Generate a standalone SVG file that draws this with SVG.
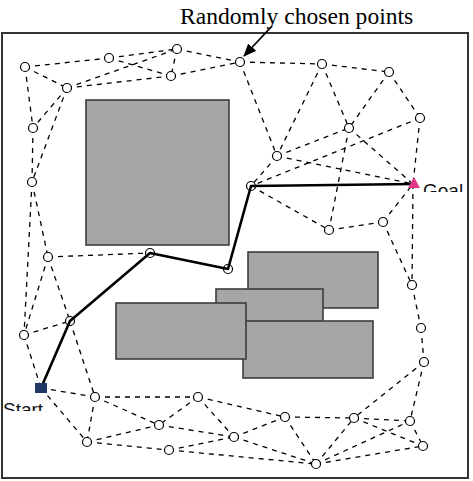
<svg xmlns="http://www.w3.org/2000/svg" width="473" height="481" viewBox="0 0 473 481">
<style>
.edge{stroke:#000;stroke-width:1.3;stroke-dasharray:5 5;fill:none}
.nd{fill:#fff;stroke:#000;stroke-width:1.2}
.obs{fill:#a6a6a6;stroke:#3c3c3c;stroke-width:1.6}
.sol{stroke:#000;stroke-width:2.6;fill:none;stroke-linejoin:round}
.lbl{font-family:"Liberation Sans",Arial,sans-serif;font-size:19px;fill:#111}
.ttl{font-family:"Liberation Serif","Times New Roman",serif;font-size:23.6px;fill:#000}
</style>
<defs>
<marker id="ah" markerWidth="13" markerHeight="11" refX="12" refY="5.5" orient="auto" markerUnits="userSpaceOnUse"><path d="M0,0 L13,5.5 L0,11 z" fill="#000"/></marker>
<clipPath id="cs"><rect x="0" y="395" width="60" height="16"/></clipPath>
<clipPath id="cg"><rect x="420" y="175" width="50" height="17"/></clipPath>
</defs>
<rect x="0" y="0" width="473" height="481" fill="#fff"/>
<rect id="frame" x="2" y="33" width="466" height="445" fill="#fff" stroke="#333" stroke-width="2"/>
<g id="obstacles">
<rect class="obs" x="86" y="100" width="143" height="145"/>
<rect class="obs" x="248" y="252" width="130" height="56"/>
<rect class="obs" x="216" y="289" width="107" height="40"/>
<rect class="obs" x="243" y="321" width="130" height="57"/>
<rect class="obs" x="116" y="303" width="130" height="56"/>
</g>
<g id="connectors">
<line class="edge" x1="25" y1="67" x2="109" y2="58"/>
<line class="edge" x1="25" y1="67" x2="67" y2="88"/>
<line class="edge" x1="25" y1="67" x2="33" y2="128"/>
<line class="edge" x1="109" y1="58" x2="177" y2="49"/>
<line class="edge" x1="109" y1="58" x2="171" y2="76"/>
<line class="edge" x1="177" y1="49" x2="171" y2="76"/>
<line class="edge" x1="177" y1="49" x2="240" y2="62"/>
<line class="edge" x1="171" y1="76" x2="240" y2="62"/>
<line class="edge" x1="67" y1="88" x2="177" y2="49"/>
<line class="edge" x1="67" y1="88" x2="171" y2="76"/>
<line class="edge" x1="67" y1="88" x2="33" y2="128"/>
<line class="edge" x1="67" y1="88" x2="32" y2="182"/>
<line class="edge" x1="33" y1="128" x2="32" y2="182"/>
<line class="edge" x1="32" y1="182" x2="48" y2="257"/>
<line class="edge" x1="32" y1="182" x2="24" y2="335"/>
<line class="edge" x1="48" y1="257" x2="150" y2="253"/>
<line class="edge" x1="48" y1="257" x2="24" y2="335"/>
<line class="edge" x1="48" y1="257" x2="70" y2="321"/>
<line class="edge" x1="240" y1="62" x2="322" y2="64"/>
<line class="edge" x1="240" y1="62" x2="277" y2="156"/>
<line class="edge" x1="322" y1="64" x2="389" y2="72"/>
<line class="edge" x1="322" y1="64" x2="277" y2="156"/>
<line class="edge" x1="322" y1="64" x2="349" y2="128"/>
<line class="edge" x1="389" y1="72" x2="349" y2="128"/>
<line class="edge" x1="389" y1="72" x2="420" y2="118"/>
<line class="edge" x1="420" y1="118" x2="413" y2="184"/>
<line class="edge" x1="420" y1="118" x2="251" y2="186"/>
<line class="edge" x1="277" y1="156" x2="349" y2="128"/>
<line class="edge" x1="277" y1="156" x2="413" y2="184"/>
<line class="edge" x1="277" y1="156" x2="251" y2="186"/>
<line class="edge" x1="349" y1="128" x2="413" y2="184"/>
<line class="edge" x1="349" y1="128" x2="329" y2="230"/>
<line class="edge" x1="251" y1="186" x2="329" y2="230"/>
<line class="edge" x1="329" y1="230" x2="383" y2="222"/>
<line class="edge" x1="383" y1="222" x2="413" y2="184"/>
<line class="edge" x1="383" y1="222" x2="412" y2="285"/>
<line class="edge" x1="413" y1="184" x2="412" y2="285"/>
<line class="edge" x1="412" y1="285" x2="421" y2="328"/>
<line class="edge" x1="421" y1="328" x2="424" y2="362"/>
<line class="edge" x1="424" y1="362" x2="354" y2="418"/>
<line class="edge" x1="424" y1="362" x2="410" y2="421"/>
<line class="edge" x1="24" y1="335" x2="70" y2="321"/>
<line class="edge" x1="24" y1="335" x2="41" y2="388"/>
<line class="edge" x1="70" y1="321" x2="95" y2="397"/>
<line class="edge" x1="41" y1="388" x2="95" y2="397"/>
<line class="edge" x1="41" y1="388" x2="87" y2="442"/>
<line class="edge" x1="95" y1="397" x2="87" y2="442"/>
<line class="edge" x1="95" y1="397" x2="159" y2="425"/>
<line class="edge" x1="95" y1="397" x2="198" y2="397"/>
<line class="edge" x1="87" y1="442" x2="159" y2="425"/>
<line class="edge" x1="87" y1="442" x2="169" y2="450"/>
<line class="edge" x1="198" y1="397" x2="159" y2="425"/>
<line class="edge" x1="198" y1="397" x2="234" y2="437"/>
<line class="edge" x1="198" y1="397" x2="285" y2="417"/>
<line class="edge" x1="159" y1="425" x2="234" y2="437"/>
<line class="edge" x1="169" y1="450" x2="234" y2="437"/>
<line class="edge" x1="169" y1="450" x2="316" y2="464"/>
<line class="edge" x1="234" y1="437" x2="285" y2="417"/>
<line class="edge" x1="234" y1="437" x2="316" y2="464"/>
<line class="edge" x1="285" y1="417" x2="316" y2="464"/>
<line class="edge" x1="285" y1="417" x2="354" y2="418"/>
<line class="edge" x1="316" y1="464" x2="354" y2="418"/>
<line class="edge" x1="316" y1="464" x2="410" y2="421"/>
<line class="edge" x1="316" y1="464" x2="423" y2="446"/>
<line class="edge" x1="354" y1="418" x2="410" y2="421"/>
<line class="edge" x1="354" y1="418" x2="423" y2="446"/>
<line class="edge" x1="410" y1="421" x2="423" y2="446"/>
<line x1="272" y1="26" x2="244" y2="56" stroke="#000" stroke-width="1.8" marker-end="url(#ah)"/>
</g>
<g id="nodes">
<g id="n-a"><circle class="nd" cx="25" cy="67" r="4.5"/></g>
<g id="n-b"><circle class="nd" cx="109" cy="58" r="4.5"/></g>
<g id="n-c"><circle class="nd" cx="177" cy="49" r="4.5"/></g>
<g id="n-d"><circle class="nd" cx="171" cy="76" r="4.5"/></g>
<g id="n-e"><circle class="nd" cx="67" cy="88" r="4.5"/></g>
<g id="n-f"><circle class="nd" cx="240" cy="62" r="4.5"/></g>
<g id="n-g"><circle class="nd" cx="33" cy="128" r="4.5"/></g>
<g id="n-h"><circle class="nd" cx="32" cy="182" r="4.5"/></g>
<g id="n-i"><circle class="nd" cx="48" cy="257" r="4.5"/></g>
<g id="n-j"><circle class="nd" cx="150" cy="253" r="4.5"/></g>
<g id="n-k"><circle class="nd" cx="228" cy="269" r="4.5"/></g>
<g id="n-l"><circle class="nd" cx="322" cy="64" r="4.5"/></g>
<g id="n-m"><circle class="nd" cx="389" cy="72" r="4.5"/></g>
<g id="n-n"><circle class="nd" cx="420" cy="118" r="4.5"/></g>
<g id="n-o"><circle class="nd" cx="349" cy="128" r="4.5"/></g>
<g id="n-p"><circle class="nd" cx="277" cy="156" r="4.5"/></g>
<g id="n-q"><circle class="nd" cx="251" cy="186" r="4.5"/></g>
<g id="n-r"><circle class="nd" cx="329" cy="230" r="4.5"/></g>
<g id="n-s"><circle class="nd" cx="383" cy="222" r="4.5"/></g>
<g id="n-t"><circle class="nd" cx="412" cy="285" r="4.5"/></g>
<g id="n-u"><circle class="nd" cx="24" cy="335" r="4.5"/></g>
<g id="n-v"><circle class="nd" cx="70" cy="321" r="4.5"/></g>
<g id="n-w"><circle class="nd" cx="95" cy="397" r="4.5"/></g>
<g id="n-x"><circle class="nd" cx="87" cy="442" r="4.5"/></g>
<g id="n-y"><circle class="nd" cx="159" cy="425" r="4.5"/></g>
<g id="n-z"><circle class="nd" cx="198" cy="397" r="4.5"/></g>
<g id="n-27"><circle class="nd" cx="234" cy="437" r="4.5"/></g>
<g id="n-28"><circle class="nd" cx="169" cy="450" r="4.5"/></g>
<g id="n-29"><circle class="nd" cx="285" cy="417" r="4.5"/></g>
<g id="n-30"><circle class="nd" cx="316" cy="464" r="4.5"/></g>
<g id="n-31"><circle class="nd" cx="421" cy="328" r="4.5"/></g>
<g id="n-32"><circle class="nd" cx="424" cy="362" r="4.5"/></g>
<g id="n-33"><circle class="nd" cx="354" cy="418" r="4.5"/></g>
<g id="n-34"><circle class="nd" cx="410" cy="421" r="4.5"/></g>
<g id="n-35"><circle class="nd" cx="423" cy="446" r="4.5"/></g>
</g>
<g id="solution-path">
<polyline class="sol" points="41,388 70,321 150,253 228,269 251,186 413,184"/>
</g>
<g id="start">
<rect x="35" y="383" width="12" height="10" fill="#1f3864"/>
<text class="lbl" x="3" y="416" clip-path="url(#cs)">Start</text>
</g>
<g id="goal">
<path d="M414,177 L420,188 L408,188 z" fill="#e0368a"/>
<text class="lbl" x="423" y="197" clip-path="url(#cg)">Goal</text>
</g>
<g id="title">
<text class="ttl" x="180" y="24">Randomly chosen points</text>
</g>
</svg>
